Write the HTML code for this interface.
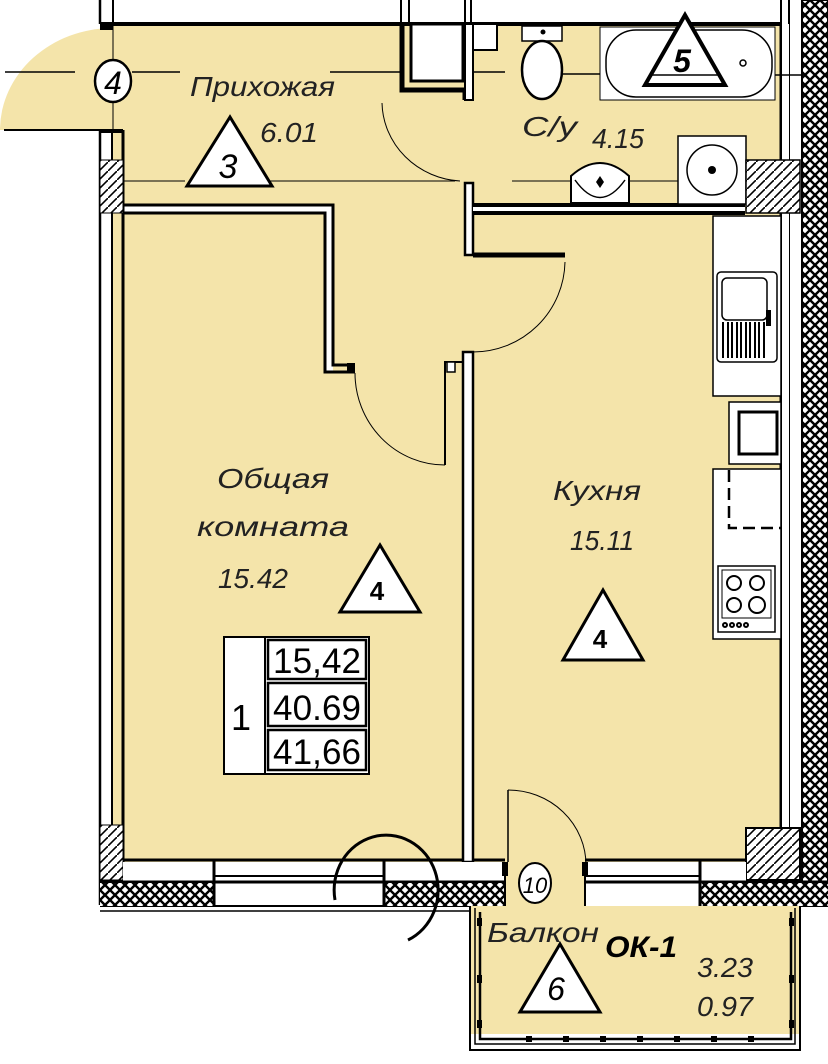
<!DOCTYPE html>
<html><head><meta charset="utf-8"><style>
html,body{margin:0;padding:0;background:#fff;}
svg{display:block;}
text{font-family:"Liberation Sans",sans-serif;}
.lbl{font-style:italic;fill:#222;font-size:28px;}
</style></head><body>
<svg width="828" height="1064" viewBox="0 0 828 1064" xmlns="http://www.w3.org/2000/svg">
<defs>
<pattern id="xh" width="10" height="10" patternUnits="userSpaceOnUse">
<rect width="10" height="10" fill="#fff"/>
<path d="M0 0L10 10M10 0L0 10" stroke="#000" stroke-width="2.4"/>
</pattern>
<pattern id="dh" width="9" height="9" patternUnits="userSpaceOnUse">
<rect width="9" height="9" fill="#fff"/>
<path d="M0 9L9 0" stroke="#000" stroke-width="1.6"/>
</pattern>
</defs>
<g fill="#F4E4AA">
<rect x="113" y="24" width="669" height="838"/>
<path d="M113 28 A113 102 0 0 0 0 130 L113 130 Z"/>
<rect x="505" y="860" width="80" height="46"/>
<rect x="470" y="906" width="330" height="128"/>
</g>
<!-- living room top wall band white -->
<rect x="123" y="206" width="210" height="7" fill="#fff"/>
<rect x="326" y="206" width="7" height="166" fill="#fff"/>
<g stroke="#000" fill="none">
<line x1="100" y1="0" x2="100" y2="24" stroke-width="2.5"/>
<line x1="113" y1="0" x2="113" y2="24" stroke-width="2"/>
<line x1="401" y1="0" x2="401" y2="24" stroke-width="2"/>
<line x1="409" y1="0" x2="409" y2="24" stroke-width="2"/>
<line x1="465" y1="0" x2="465" y2="24" stroke-width="2"/>
<line x1="471" y1="0" x2="471" y2="24" stroke-width="2"/>
<line x1="781" y1="0" x2="781" y2="24" stroke-width="2"/>
<line x1="100" y1="24" x2="781" y2="24" stroke-width="4"/>
<line x1="781" y1="24" x2="781" y2="160" stroke-width="3"/>
<line x1="789" y1="0" x2="789" y2="885" stroke-width="2"/>
<line x1="781" y1="213" x2="781" y2="828" stroke-width="3"/>
<line x1="100" y1="130" x2="100" y2="905" stroke-width="2.5"/>
<line x1="112" y1="130" x2="112" y2="160" stroke-width="2"/>
<line x1="112" y1="213" x2="112" y2="825" stroke-width="2"/>
<line x1="123" y1="130" x2="123" y2="862" stroke-width="3"/>
<line x1="100" y1="131" x2="123" y2="131" stroke-width="4"/>
<line x1="100" y1="28" x2="113" y2="28" stroke-width="4"/>
<line x1="113" y1="24" x2="113" y2="130" stroke-width="1"/>
<line x1="4" y1="130" x2="100" y2="130" stroke-width="2"/>
</g>
<rect x="782" y="24" width="7" height="136" fill="#fff"/>
<rect x="782" y="213" width="7" height="615" fill="#fff"/>
<rect x="100" y="160" width="23" height="53" fill="url(#dh)" stroke="#000" stroke-width="1"/>
<rect x="100" y="825" width="23" height="55" fill="url(#dh)" stroke="#000" stroke-width="1"/>
<g stroke="#000" stroke-width="1.5">
<line x1="5" y1="72" x2="75" y2="72"/><line x1="132" y1="72" x2="180" y2="72"/>
<line x1="330" y1="72" x2="400" y2="72"/><line x1="435" y1="72" x2="505" y2="72"/>
<line x1="540" y1="74" x2="618" y2="74"/><line x1="758" y1="75" x2="828" y2="75"/>
<line x1="123" y1="181" x2="185" y2="181" stroke-width="1"/><line x1="270" y1="181" x2="455" y2="181" stroke-width="1"/>
<line x1="512" y1="181" x2="740" y2="181" stroke-width="1"/>
</g>
<ellipse cx="113" cy="81" rx="18" ry="21" fill="#fff" stroke="#000" stroke-width="2.5"/>
<text x="113" y="94" font-size="32" text-anchor="middle" font-style="italic">4</text>
<path d="M402 24 V90 H465 V100" stroke="#000" stroke-width="5" fill="none"/>
<rect x="411" y="24" width="52" height="57" fill="#fff" stroke="#000" stroke-width="3"/>
<rect x="473" y="24" width="24" height="26" fill="#fff" stroke="#000" stroke-width="2"/>
<rect x="465" y="24" width="8" height="76" fill="#fff" stroke="#000" stroke-width="2"/>
<rect x="522" y="26" width="40" height="15" fill="#fff" stroke="#000" stroke-width="1.5"/>
<ellipse cx="542" cy="70" rx="20" ry="29" fill="#fff" stroke="#000" stroke-width="2.5"/>
<circle cx="543" cy="32" r="2.5" fill="#000"/>
<rect x="600" y="27" width="175" height="73" fill="#fff" stroke="#000" stroke-width="1"/>
<rect x="606" y="30" width="166" height="67" rx="30" fill="#fff" stroke="#000" stroke-width="1.5"/>
<circle cx="743" cy="63" r="3" fill="none" stroke="#000" stroke-width="1.5"/>
<polygon points="685,15 645,85 725,85" fill="#fff" stroke="#000" stroke-width="4"/>
<line x1="652" y1="75" x2="719" y2="75" stroke="#000" stroke-width="1.5"/>
<text x="682" y="72" font-size="32" text-anchor="middle" font-style="italic" font-weight="bold">5</text>
<rect x="465" y="183" width="8" height="72" fill="#fff" stroke="#000" stroke-width="2.5"/>
<line x1="473" y1="205" x2="745" y2="205" stroke="#000" stroke-width="4"/>
<line x1="473" y1="213" x2="745" y2="213" stroke="#000" stroke-width="4"/>
<rect x="473" y="207" width="272" height="4" fill="#fff"/>
<rect x="678" y="136" width="68" height="68" fill="#fff" stroke="#000" stroke-width="1.5"/>
<circle cx="712" cy="170" r="25" fill="none" stroke="#000" stroke-width="1.5"/>
<circle cx="712" cy="170" r="4" fill="#000"/>
<rect x="746" y="160" width="54" height="53" fill="url(#dh)" stroke="#000" stroke-width="1.5"/>
<path d="M571 203 V176 Q600 150 629 176 V203 Z" fill="#fff" stroke="#000" stroke-width="2"/>
<path d="M575 180 Q600 215 625 180" fill="none" stroke="#000" stroke-width="1.5"/>
<path d="M600 176 l4 6 -4 6 -4 -6z" fill="#000"/>
<path d="M382 103 A83 80 0 0 0 460 181" fill="none" stroke="#000" stroke-width="1"/>
<path d="M123 205 H333 V365 H355" fill="none" stroke="#000" stroke-width="3"/>
<path d="M123 213 H325 V372 H355" fill="none" stroke="#000" stroke-width="3"/>
<rect x="347" y="363" width="8" height="10" fill="#000"/>
<path d="M355 373 A90 92 0 0 0 445 465" fill="none" stroke="#000" stroke-width="1"/>
<path d="M473 255 H565" stroke="#000" stroke-width="5"/>
<path d="M565 262 A92 92 0 0 1 473 352" fill="none" stroke="#000" stroke-width="1"/>
<rect x="463" y="352" width="10" height="510" fill="#fff" stroke="#000" stroke-width="2.5"/>
<path d="M445 465 V362 H463" fill="none" stroke="#000" stroke-width="2"/>
<rect x="447" y="362" width="8" height="10" fill="#fff" stroke="#000" stroke-width="1.5"/>
<rect x="713" y="216" width="68" height="180" fill="#fff" stroke="#000" stroke-width="1.5"/>
<rect x="717" y="272" width="60" height="90" rx="4" fill="#fff" stroke="#000" stroke-width="1.5"/>
<rect x="722" y="278" width="45" height="42" rx="5" fill="none" stroke="#000" stroke-width="1.5"/>
<g stroke="#000" stroke-width="2">
<line x1="723" y1="322" x2="723" y2="358"/><line x1="728" y1="322" x2="728" y2="358"/><line x1="732" y1="322" x2="732" y2="358"/><line x1="737" y1="322" x2="737" y2="358"/><line x1="741" y1="322" x2="741" y2="358"/><line x1="746" y1="322" x2="746" y2="358"/><line x1="750" y1="322" x2="750" y2="358"/><line x1="755" y1="322" x2="755" y2="358"/><line x1="759" y1="322" x2="759" y2="358"/><line x1="764" y1="322" x2="764" y2="358"/>
</g>
<rect x="766" y="310" width="5" height="16" fill="#000"/>
<rect x="729" y="402" width="52" height="62" fill="#fff" stroke="#000" stroke-width="1.5"/>
<rect x="739" y="412" width="38" height="42" fill="#fff" stroke="#000" stroke-width="3"/>
<rect x="713" y="469" width="68" height="170" fill="#fff" stroke="#000" stroke-width="1.5"/>
<path d="M729 470 V528 H781" fill="none" stroke="#000" stroke-width="2.5" stroke-dasharray="12 6"/>
<rect x="718" y="566" width="57" height="66" fill="#fff" stroke="#000" stroke-width="1.5"/>
<rect x="722" y="570" width="49" height="48" fill="none" stroke="#000" stroke-width="1"/>
<g fill="none" stroke="#000" stroke-width="2">
<circle cx="734" cy="583" r="7"/><circle cx="757" cy="583" r="7"/><circle cx="734" cy="605" r="7"/><circle cx="757" cy="605" r="8"/>
<circle cx="725" cy="625" r="2"/><circle cx="732" cy="625" r="2"/><circle cx="739" cy="625" r="2"/><circle cx="746" cy="625" r="2"/>
</g>
<rect x="802" y="0" width="26" height="906" fill="url(#xh)" stroke="#000" stroke-width="2"/>
<rect x="746" y="828" width="54" height="52" fill="url(#dh)" stroke="#000" stroke-width="2"/>
<rect x="123" y="862" width="382" height="20" fill="#fff"/>
<rect x="585" y="862" width="161" height="20" fill="#fff"/>
<g stroke="#000">
<line x1="123" y1="860" x2="463" y2="860" stroke-width="3"/>
<line x1="473" y1="860" x2="505" y2="860" stroke-width="3"/>
<line x1="585" y1="860" x2="746" y2="860" stroke-width="3"/>
<line x1="100" y1="882" x2="505" y2="882" stroke-width="3"/>
<line x1="585" y1="882" x2="828" y2="882" stroke-width="3"/>
<line x1="100" y1="906" x2="470" y2="906" stroke-width="2"/>
<line x1="100" y1="911" x2="470" y2="911" stroke-width="1.5"/>
<line x1="800" y1="906" x2="828" y2="906" stroke-width="2"/>
</g>
<rect x="100" y="883" width="113" height="23" fill="url(#xh)"/>
<rect x="384" y="883" width="121" height="23" fill="url(#xh)"/>
<rect x="700" y="883" width="128" height="23" fill="url(#xh)"/>
<g stroke="#000" fill="none">
<line x1="214" y1="860" x2="214" y2="906" stroke-width="3"/>
<line x1="384" y1="860" x2="384" y2="906" stroke-width="3"/>
<line x1="214" y1="876" x2="384" y2="876" stroke-width="2"/>
<line x1="700" y1="860" x2="700" y2="906" stroke-width="3"/>
<line x1="585" y1="876" x2="700" y2="876" stroke-width="2"/>
<line x1="505" y1="862" x2="505" y2="906" stroke-width="2"/>
<line x1="585" y1="862" x2="585" y2="906" stroke-width="2"/>
<path d="M335 900 A52 55 0 1 1 408 940" stroke-width="3"/>
<path d="M508 790 A78 75 0 0 1 586 865" stroke-width="1"/>
<line x1="508" y1="790" x2="508" y2="862" stroke-width="1.5"/>
</g>
<rect x="502" y="862" width="6" height="14" fill="#000"/>
<rect x="582" y="862" width="6" height="14" fill="#000"/>
<ellipse cx="535" cy="883" rx="16" ry="20" fill="#fff" stroke="#000" stroke-width="2"/>
<text x="535" y="893" font-size="22" text-anchor="middle" font-style="italic">10</text>
<g stroke="#000" fill="none">
<path d="M470 906 V1050 H800 V906" stroke-width="2"/>
<path d="M475 908 V1044 H795 V908" stroke-width="1.5"/>
<path d="M480 912 V1039 H791 V912" stroke-width="2.5"/>
</g>
<g fill="#000">
<rect x="477" y="918" width="5" height="8"/><rect x="477" y="975" width="5" height="8"/><rect x="477" y="1020" width="5" height="8"/>
<rect x="789" y="918" width="5" height="8"/><rect x="789" y="975" width="5" height="8"/><rect x="789" y="1020" width="5" height="8"/>
<rect x="526" y="1036" width="6" height="6"/><rect x="563" y="1036" width="6" height="6"/><rect x="600" y="1036" width="6" height="6"/><rect x="637" y="1036" width="6" height="6"/><rect x="674" y="1036" width="6" height="6"/><rect x="711" y="1036" width="6" height="6"/><rect x="748" y="1036" width="6" height="6"/>
</g>
<polygon points="230,117 187,186 272,186" fill="#fff" stroke="#000" stroke-width="3"/>
<text x="228" y="178" font-size="34" text-anchor="middle" font-style="italic">3</text>
<polygon points="380,545 340,612 420,612" fill="#fff" stroke="#000" stroke-width="3"/>
<text x="377" y="600" font-size="26" text-anchor="middle" font-weight="bold">4</text>
<polygon points="603,590 563,660 643,660" fill="#fff" stroke="#000" stroke-width="3"/>
<text x="600" y="648" font-size="26" text-anchor="middle" font-weight="bold">4</text>
<polygon points="560,944 520,1012 600,1012" fill="#fff" stroke="#000" stroke-width="3"/>
<text x="556" y="1000" font-size="32" text-anchor="middle" font-style="italic">6</text>
<rect x="224" y="637" width="145" height="137" fill="#fff" stroke="#000" stroke-width="2"/>
<line x1="265" y1="637" x2="265" y2="774" stroke="#000" stroke-width="2"/>
<rect x="268" y="640" width="98" height="39" fill="none" stroke="#000" stroke-width="2.5"/>
<rect x="268" y="683" width="98" height="43" fill="none" stroke="#000" stroke-width="2.5"/>
<rect x="268" y="730" width="98" height="40" fill="none" stroke="#000" stroke-width="2.5"/>
<text x="241" y="730" font-size="36" text-anchor="middle">1</text>
<text x="317" y="673" font-size="35" text-anchor="middle" textLength="88">15,42</text>
<text x="317" y="720" font-size="35" text-anchor="middle" textLength="88">40.69</text>
<text x="317" y="764" font-size="35" text-anchor="middle" textLength="88">41,66</text>
<text class="lbl" x="190" y="96" textLength="145" lengthAdjust="spacingAndGlyphs">Прихожая</text>
<text class="lbl" x="260" y="142" textLength="58" lengthAdjust="spacingAndGlyphs">6.01</text>
<text class="lbl" x="522" y="136" textLength="55" lengthAdjust="spacingAndGlyphs">С/у</text>
<text class="lbl" x="592" y="148" textLength="52" lengthAdjust="spacingAndGlyphs">4.15</text>
<text class="lbl" x="217" y="488" textLength="112" lengthAdjust="spacingAndGlyphs">Общая</text>
<text class="lbl" x="197" y="536" textLength="152" lengthAdjust="spacingAndGlyphs">комната</text>
<text class="lbl" x="218" y="588" textLength="70" lengthAdjust="spacingAndGlyphs">15.42</text>
<text class="lbl" x="553" y="500" textLength="88" lengthAdjust="spacingAndGlyphs">Кухня</text>
<text class="lbl" x="570" y="550" textLength="64" lengthAdjust="spacingAndGlyphs">15.11</text>
<text class="lbl" x="487" y="942" textLength="112" lengthAdjust="spacingAndGlyphs">Балкон</text>
<text x="605" y="957" font-size="30" font-weight="bold" font-style="italic" textLength="72" lengthAdjust="spacingAndGlyphs">ОК-1</text>
<text class="lbl" x="697" y="977" textLength="56" lengthAdjust="spacingAndGlyphs">3.23</text>
<text class="lbl" x="697" y="1016" textLength="56" lengthAdjust="spacingAndGlyphs">0.97</text>
</svg>
</body></html>
